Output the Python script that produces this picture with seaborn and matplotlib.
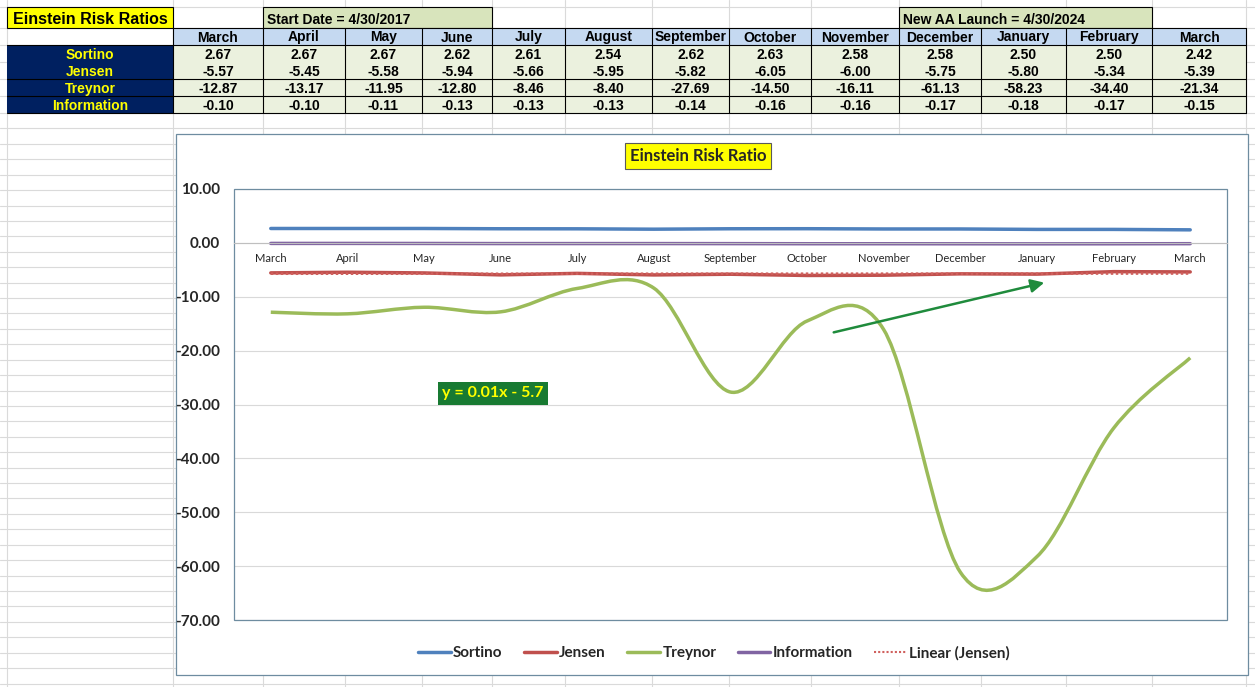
import numpy as np
import seaborn as sns
import matplotlib
matplotlib.use("Agg")
import matplotlib.pyplot as plt
import matplotlib.transforms as mtransforms
from matplotlib.patches import Rectangle, PathPatch, FancyArrowPatch
from matplotlib.path import Path
from matplotlib.lines import Line2D

# data
months = ["March", "April", "May", "June", "July", "August", "September",
          "October", "November", "December", "January", "February", "March"]
sortino = [2.67, 2.67, 2.67, 2.62, 2.61, 2.54, 2.62, 2.63, 2.58, 2.58, 2.50, 2.50, 2.42]
jensen = [-5.57, -5.45, -5.58, -5.94, -5.66, -5.95, -5.82, -6.05, -6.00, -5.75, -5.80, -5.34, -5.39]
treynor = [-12.87, -13.17, -11.95, -12.80, -8.46, -8.40, -27.69, -14.50, -16.11, -61.13, -58.23, -34.40, -21.34]
information = [-0.10, -0.10, -0.11, -0.13, -0.13, -0.13, -0.14, -0.16, -0.16, -0.17, -0.18, -0.17, -0.15]
row_names = ["Sortino", "Jensen", "Treynor", "Information"]
yticks = [10, 0, -10, -20, -30, -40, -50, -60, -70]

colors = {"Sortino": "#4F81BD", "Jensen": "#C0504D", "Treynor": "#9BBB59", "Information": "#8064A2"}

W, H = 1255, 687
sns.set_style("white")
plt.rcParams["font.family"] = ["Lato", "DejaVu Sans"]
TABLE_FONT = ["Liberation Sans", "DejaVu Sans"]

fig = plt.figure(figsize=(W / 100, H / 100), dpi=100)
px = mtransforms.Affine2D().scale(1 / W, -1 / H).translate(0, 1) + fig.transFigure


def rect(x0, y0, x1, y1, fc, ec="none", lw=0.8, z=-8):
    fig.add_artist(Rectangle((x0, y0), x1 - x0, y1 - y0, transform=px,
                             facecolor=fc, edgecolor=ec, lw=lw, zorder=z))


def line(xs, ys, color, lw, z):
    fig.add_artist(Line2D(xs, ys, transform=px, color=color, lw=lw, zorder=z))


def cell_text(x, base, s, ha="center", size=10, color="black"):
    fig.text(x, base, s, transform=px, ha=ha, va="baseline", fontsize=size,
             fontweight="bold", color=color, family=TABLE_FONT, zorder=-6)


# spreadsheet grid
bx = [7, 173, 263, 345, 422, 492, 565, 652, 729, 811, 899, 981, 1066, 1152, 1246]
grid_rows = [7, 28, 45, 62, 79, 96] + list(np.arange(113, H, 15.42))
for x in bx:
    line([x, x], [0, H], "#DADADA", 0.8, -10)
for y in grid_rows:
    line([0, W], [y, y], "#DADADA", 0.8, -10)

# table
rect(7, 7, 173, 28, "#FFFF00", "black")
cell_text(90, 24.5, "Einstein Risk Ratios", size=11.5)
rect(263, 7, 492, 28, "#D8E4BC", "black")
cell_text(267, 24, "Start Date = 4/30/2017", ha="left")
rect(899, 7, 1152, 28, "#D8E4BC", "black")
cell_text(903, 24, "New AA Launch = 4/30/2024", ha="left")

rect(173, 28, 1246, 45, "#C5D9F1")
rect(173, 45, 1246, 113, "#EBF1DE")
rect(7, 45, 173, 113, "#002060")
for x in bx[1:]:
    line([x, x], [28, 113], "black", 0.8, -7)
line([173, 1246], [28, 28], "black", 0.8, -7)
for y in [45, 79, 96, 113]:
    line([7, 1246], [y, y], "black", 0.8, -7)

table_rows = [sortino, jensen, treynor, information]
for j, m in enumerate(months):
    cx = (bx[j + 1] + bx[j + 2]) / 2
    cell_text(cx, 41.5, m)
    for r, vals in enumerate(table_rows):
        cell_text(cx, 59 + 17 * r, f"{vals[j]:.2f}")
for r, name in enumerate(row_names):
    cell_text(90, 59 + 17 * r, name, color="#FFFF00")

# chart frame
rect(176, 134, 1248, 675, "white", "#6E8CA0", lw=0.9, z=-4)
fig.text(698, 156, "Einstein Risk Ratio", transform=px, ha="center", va="center",
         fontsize=12, fontweight="bold", zorder=2,
         bbox=dict(boxstyle="square,pad=0.3", fc="#FFFF00", ec="#5A5A5A", lw=0.8))

ax = fig.add_axes([234 / W, 1 - 620 / H, (1227 - 234) / W, (620 - 189) / H])
ax.set_facecolor("none")
xpos = np.arange(len(months))

sns.lineplot(x=xpos, y=sortino, ax=ax, color=colors["Sortino"], lw=2.5)
sns.lineplot(x=xpos, y=jensen, ax=ax, color=colors["Jensen"], lw=2.5)


def smooth_path(xs, ys):
    pts = np.column_stack([xs, ys]).astype(float)
    ext = np.vstack([pts[0], pts, pts[-1]])
    verts, codes = [pts[0]], [Path.MOVETO]
    for i in range(len(pts) - 1):
        p0, p1, p2, p3 = ext[i], ext[i + 1], ext[i + 2], ext[i + 3]
        verts += [p1 + (p2 - p0) / 6, p2 - (p3 - p1) / 6, p2]
        codes += [Path.CURVE4] * 3
    return Path(verts, codes)


ax.add_patch(PathPatch(smooth_path(xpos, treynor), fill=False,
                       ec=colors["Treynor"], lw=2.5))
sns.lineplot(x=xpos, y=information, ax=ax, color=colors["Information"], lw=2.5)

# linear trend of Jensen (Excel numbering 1..n)
coef = np.polyfit(xpos + 1, jensen, 1)
sns.lineplot(x=xpos, y=np.polyval(coef, xpos + 1), ax=ax, color="#D0605D",
             lw=1.8, linestyle=(0, (1, 1)))

ax.set_xlim(-0.48, len(months) - 0.52)
ax.set_ylim(-70, 10)
ax.set_yticks(yticks)
ax.set_yticklabels([f"{v:.2f}" for v in yticks], fontweight="bold")
ax.set_xticks(xpos)
ax.set_xticklabels(months, fontweight="bold")
ax.tick_params(axis="y", length=0, pad=10, labelsize=11)
ax.tick_params(axis="x", length=0, pad=7, labelsize=8)
ax.yaxis.grid(True, color="#D9D9D9", lw=0.8)
ax.set_axisbelow(True)
for s in ["top", "left", "right"]:
    ax.spines[s].set_visible(False)
ax.spines["bottom"].set_position(("data", 0))
ax.spines["bottom"].set_color("#BFBFBF")
ax.spines["bottom"].set_linewidth(0.8)
ax.add_patch(Rectangle((0, 0), 1, 1, transform=ax.transAxes, fill=False,
                       ec="#6E8CA0", lw=0.9, clip_on=False))

# annotations
fig.text(493, 393.5, "y = 0.01x - 5.7", transform=px, ha="center", va="center",
         fontsize=11.5, fontweight="bold", color="#FFFF00", zorder=5,
         bbox=dict(boxstyle="square,pad=0.3", fc="#187A32", ec="none"))
fig.add_artist(FancyArrowPatch((831, 333), (1047, 282), transform=px,
                               arrowstyle="-|>", mutation_scale=20, lw=1.8,
                               color="#1F8B3C", zorder=5))

handles = [Line2D([], [], color=colors[n], lw=2.5) for n in row_names]
handles.append(Line2D([], [], color="#D0605D", lw=1.5, linestyle=(0, (1, 1))))
fig.legend(handles, row_names + ["Linear (Jensen)"], loc="center",
           bbox_to_anchor=(714 / W, 1 - 653 / H), ncol=5, frameon=False,
           prop={"weight": "bold", "size": 11}, handlelength=2.15,
           handletextpad=0.15, columnspacing=1.4)

fig.savefig("out.png", dpi=100)
